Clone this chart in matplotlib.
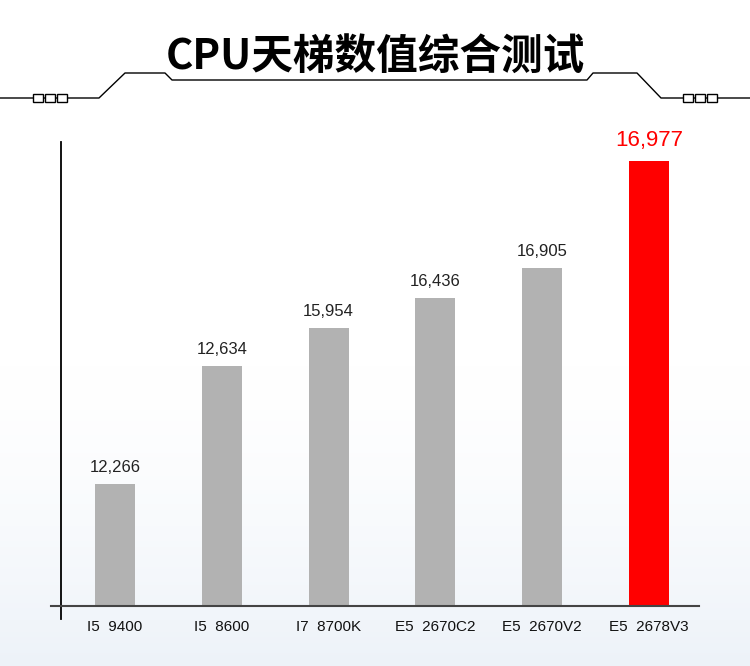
import numpy as np
import matplotlib.pyplot as plt
from matplotlib.lines import Line2D
from matplotlib.patches import Rectangle

plt.rcParams['font.family'] = ['Liberation Sans', 'Noto Sans CJK SC', 'DejaVu Sans']

# 数据
cpus = ['I5  9400', 'I5  8600', 'I7  8700K', 'E5  2670C2', 'E5  2670V2', 'E5  2678V3']
scores = [12266, 12634, 15954, 16436, 16905, 16977]
# 原图柱高并不按数值比例, 高度
bar_heights = [122, 240, 278, 308, 338, 445]
colors = ['#b2b2b2'] * 5 + ['#ff0000']

W, H = 750, 666
fig = plt.figure(figsize=(W / 100, H / 100), dpi=100)

# 背景和标题装饰用的底层坐标 (像素)
bg = fig.add_axes([0, 0, 1, 1], zorder=0)
bg.set_xlim(0, W)
bg.set_ylim(H, 0)
bg.axis('off')
grad = np.linspace(0, 1, 256)
grad = np.clip((grad - 0.55) / 0.45, 0, 1) ** 1.5
img = np.ones((256, 1, 3))
bottom_col = np.array([0.93, 0.95, 0.975])
for i in range(3):
    img[:, 0, i] = 1 - grad * (1 - bottom_col[i])
bg.imshow(img, extent=[0, W, H, 0], aspect='auto', zorder=0)

bg.text(W / 2, 58, 'CPU天梯数值综合测试', ha='center', va='center', fontsize=30,
        fontweight='bold', family=['Noto Sans CJK SC', 'DejaVu Sans'], color='black')

lx = [0, 99, 125, 165, 172, 587, 593, 637, 661, 750]
ly = [98, 98, 73, 73, 80, 80, 73, 73, 98, 98]
bg.add_line(Line2D(lx, ly, color='black', lw=1.0, zorder=2))
for x0 in (33, 683):
    for k in range(3):
        bg.add_patch(Rectangle((x0 + k * 12, 94), 10, 8, facecolor='white',
                               edgecolor='black', lw=1.0, zorder=3))

# 主图
ax = fig.add_axes([51 / W, (H - 606) / H, 648 / W, (606 - 142) / H], zorder=1)
ax.patch.set_alpha(0)
x = np.arange(len(cpus))
ax.bar(x, bar_heights, width=0.375, color=colors, zorder=2)
ax.set_xlim(-0.599, 5.468)
ax.set_ylim(0, 464)

for i, (h, s) in enumerate(zip(bar_heights, scores)):
    if i == len(scores) - 1:
        ax.text(i, h + 10, f'{s:,}', ha='center', va='bottom', fontsize=16, color='#ff0000')
    else:
        ax.text(i, h + 9, f'{s:,}', ha='center', va='bottom', fontsize=12, color='#222222')

for sp in ('top', 'right', 'left'):
    ax.spines[sp].set_visible(False)
ax.spines['bottom'].set_color('#444444')
ax.spines['bottom'].set_linewidth(1.5)
ax.plot([-0.506, -0.506], [-13, 464], color='black', lw=1.3, clip_on=False)

ax.set_yticks([])
ax.set_xticks(x)
ax.set_xticklabels(cpus, fontsize=11, color='#111111')
ax.tick_params(axis='x', length=0, pad=10)

fig.savefig('out.png', dpi=100)
